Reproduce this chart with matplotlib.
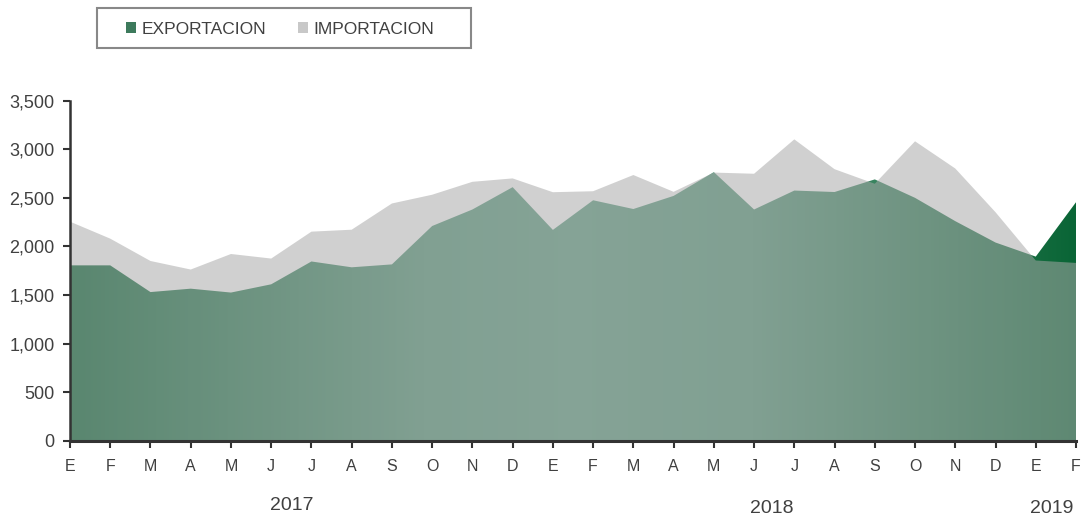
import numpy as np
import matplotlib
matplotlib.use("Agg")
import matplotlib.pyplot as plt
from matplotlib.patches import Patch, Rectangle
from matplotlib.colors import LinearSegmentedColormap

months = ["E", "F", "M", "A", "M", "J", "J", "A", "S", "O", "N", "D",
          "E", "F", "M", "A", "M", "J", "J", "A", "S", "O", "N", "D",
          "E", "F"]
years = ["2017", "2018", "2019"]
year_pos = [5.5, 17.45, 24.4]

exportacion = [1805, 1805, 1530, 1565, 1525, 1610, 1845, 1785, 1815, 2210, 2380, 2610,
               2170, 2475, 2385, 2520, 2765, 2380, 2575, 2560, 2690, 2500, 2260, 2040,
               1895, 2455]
importacion = [2255, 2080, 1850, 1762, 1922, 1875, 2152, 2172, 2442, 2532, 2665, 2700,
               2558, 2568, 2735, 2562, 2760, 2748, 3102, 2795, 2645, 3082, 2802, 2352,
               1855, 1830]

plt.rcParams['font.family'] = ['Liberation Sans', 'DejaVu Sans']
fig = plt.figure(figsize=(10.81, 5.25), dpi=100)
ax = fig.add_axes([70 / 1081, 1 - 440.7 / 525, (1076 - 70) / 1081, 340 / 525])

x = np.arange(len(months))
exp_ = np.array(exportacion, dtype=float)
imp_ = np.array(importacion, dtype=float)

# export area with horizontal gradient
cmap = LinearSegmentedColormap.from_list(
    "g", [(0.0, "#00612f"), (0.35, "#549779"), (0.5, "#5e9f83"),
          (0.68, "#549779"), (1.0, "#0a6536")])
poly = ax.fill_between(x, 0, exp_, facecolor="none", edgecolor="none", zorder=2)
grad = np.linspace(0, 1, 512).reshape(1, -1)
im = ax.imshow(grad, cmap=cmap, extent=[x[0], x[-1], 0, 3500], aspect="auto",
               origin="lower", zorder=2, interpolation="bilinear")
im.set_clip_path(poly.get_paths()[0], transform=ax.transData)

# import area, semi-transparent gray on top
ax.fill_between(x, 0, imp_, facecolor="#a8a8a8", alpha=0.537, edgecolor="none", zorder=3)

ax.set_xlim(x[0], x[-1])
ax.set_ylim(0, 3500)
ax.set_yticks(np.arange(0, 3501, 500))
ax.set_yticklabels([f"{v:,}" for v in range(0, 3501, 500)])
ax.set_xticks(x)
ax.set_xticklabels(months)

for s in ["top", "right"]:
    ax.spines[s].set_visible(False)
ax.spines["left"].set_color("#333333")
ax.spines["left"].set_linewidth(1.8)
ax.spines["bottom"].set_color("#333333")
ax.spines["bottom"].set_linewidth(2.2)
ax.spines["left"].set_zorder(5)
ax.spines["bottom"].set_zorder(5)

ax.tick_params(axis="y", direction="out", length=5, width=1.5, color="#333333",
               labelsize=13, labelcolor="#404040", pad=6)
ax.tick_params(axis="x", direction="out", length=5, width=1.5, color="#333333",
               labelsize=11.5, labelcolor="#404040", pad=8)

for lbl, p in zip(years, year_pos):
    ax.text(p, -0.19 if lbl == "2017" else -0.2, lbl, transform=ax.get_xaxis_transform(),
            ha="center", va="center", fontsize=14, color="#404040")

# legend
fig.patches.append(Rectangle((97 / 1081, 1 - 48 / 525), 374 / 1081, 40 / 525,
                             transform=fig.transFigure, facecolor="white",
                             edgecolor="#888888", linewidth=1.5))
handles = [Patch(facecolor="#3d7a5c", edgecolor="none", label="EXPORTACION"),
           Patch(facecolor="#c8c8c8", edgecolor="none", label="IMPORTACION")]
fig.legend(handles=handles, loc="center", bbox_to_anchor=(280 / 1081, 1 - 29 / 525),
           ncol=2, frameon=False, fontsize=12.5, handlelength=0.6, handleheight=0.6,
           handletextpad=0.3, columnspacing=1.8, labelcolor="#404040")

fig.savefig("out.png", dpi=100)
